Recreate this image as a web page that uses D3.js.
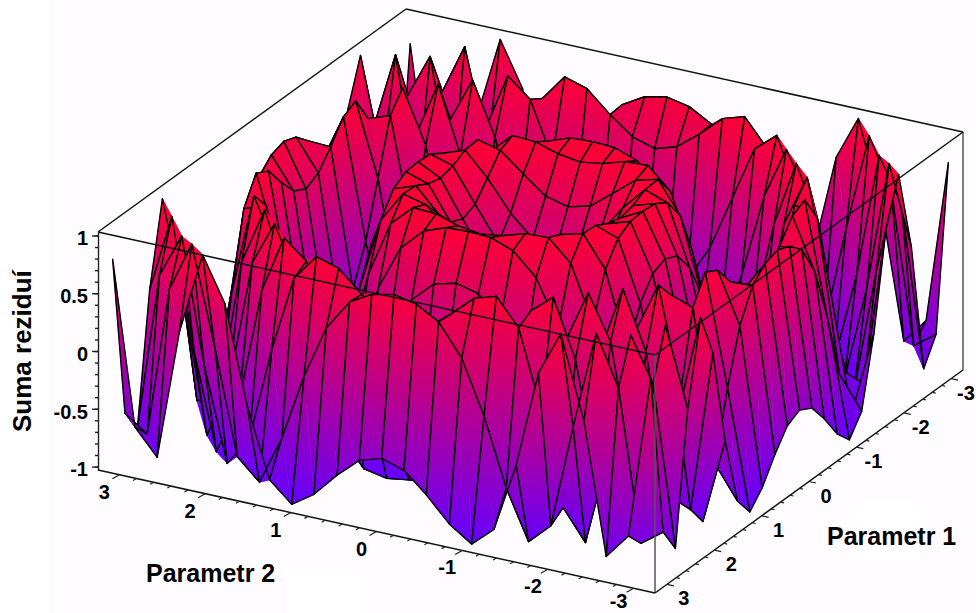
<!DOCTYPE html>
<html lang="cs">

<head>
  <meta charset="utf-8">
  <title>Suma reziduí</title>
  <script src="https://d3js.org/d3.v7.min.js"></script>
  <style>
    body { margin: 0; background: #fff; }
    svg { display: block; }
    text { font-family: "Liberation Sans", Arial, sans-serif; font-weight: bold; fill: #000; }
    .tick-label { font-size: 20px; text-anchor: middle; }
    .title { font-size: 25px; }
    .axis text { font-size: 20px; font-weight: bold; font-family: "Liberation Sans", Arial, sans-serif; }
    .axis path, .axis line { stroke: #222; }
  </style>
</head>

<body>
  <div id="chart"></div>

  <script type="text/javascript">
    "use strict"

    var param1Grid = [-3.14, -2.88, -2.62, -2.36, -2.09, -1.83, -1.57, -1.31, -1.05, -0.79, -0.52, -0.26, 0,
      0.26, 0.52, 0.79, 1.05, 1.31, 1.57, 1.83, 2.09, 2.36, 2.62, 2.88, 3.14];
    var param2Grid = [3.14, 2.88, 2.62, 2.36, 2.09, 1.83, 1.57, 1.31, 1.05, 0.79, 0.52, 0.26, 0,
      -0.26, -0.52, -0.79, -1.05, -1.31, -1.57, -1.83, -2.09, -2.36, -2.62, -2.88, -3.14];

    // heights of the surface, one row per param1Grid value, estimated to two decimals.
    // hand tabulated with the radial ripple seen in the picture as a guide, checked against spike positions
    var sumaReziduiRows = [
      [.78,-.63,-.85,.28,.99,.61,-.23,-.83,-1,-.87,-.66,-.49,-.43,-.49,-.66,-.87,-1,-.83,-.23,.61,.99,.28,-.85,-.63,.78],
      [-.63,-.77,.53,.96,.11,-.79,-.97,-.55,.03,.49,.76,.87,.91,.87,.76,.49,.03,-.55,-.97,-.79,.11,.96,.53,-.77,-.63],
      [-.85,.53,.91,-.16,-.97,-.71,.10,.76,.99,.93,.75,.60,.54,.60,.75,.93,.99,.76,.10,-.71,-.97,-.16,.91,.53,-.85],
      [.28,.96,-.16,-.99,-.49,.49,.99,.83,.36,-.11,-.44,-.61,-.67,-.61,-.44,-.11,.36,.83,.99,.49,-.49,-.99,-.16,.96,.28],
      [.99,.11,-.97,-.49,.61,.99,.54,-.18,-.72,-.96,-1,-.97,-.95,-.97,-1,-.96,-.72,-.18,.54,.99,.61,-.49,-.97,.11,.99],
      [.61,-.79,-.71,.49,.99,.42,-.44,-.94,-.97,-.74,-.47,-.28,-.22,-.28,-.47,-.74,-.97,-.94,-.44,.42,.99,.49,-.71,-.79,.61],
      [-.23,-.97,.10,.99,.54,-.44,-.98,-.86,-.41,.06,.39,.57,.62,.57,.39,.06,-.41,-.86,-.98,-.44,.54,.99,.10,-.97,-.23],
      [-.83,-.55,.76,.83,-.18,-.94,-.86,-.28,.33,.72,.91,.98,.99,.98,.91,.72,.33,-.28,-.86,-.94,-.18,.83,.76,-.55,-.83],
      [-1,.03,.99,.36,-.72,-.97,-.41,.33,.81,.99,.98,.92,.89,.92,.98,.99,.81,.33,-.41,-.97,-.72,.36,.99,.03,-1],
      [-.87,.49,.93,-.11,-.96,-.74,.06,.72,.99,.94,.78,.63,.58,.63,.78,.94,.99,.72,.06,-.74,-.96,-.11,.93,.49,-.87],
      [-.66,.76,.75,-.44,-1,-.47,.39,.91,.98,.78,.52,.34,.27,.34,.52,.78,.98,.91,.39,-.47,-1,-.44,.75,.76,-.66],
      [-.49,.87,.60,-.61,-.97,-.28,.57,.98,.92,.63,.34,.14,.07,.14,.34,.63,.92,.98,.57,-.28,-.97,-.61,.60,.87,-.49],
      [-.43,.91,.54,-.67,-.95,-.22,.62,.99,.89,.58,.27,.07,0,.07,.27,.58,.89,.99,.62,-.22,-.95,-.67,.54,.91,-.43],
      [-.49,.87,.60,-.61,-.97,-.28,.57,.98,.92,.63,.34,.14,.07,.14,.34,.63,.92,.98,.57,-.28,-.97,-.61,.60,.87,-.49],
      [-.66,.76,.75,-.44,-1,-.47,.39,.91,.98,.78,.52,.34,.27,.34,.52,.78,.98,.91,.39,-.47,-1,-.44,.75,.76,-.66],
      [-.87,.49,.93,-.11,-.96,-.74,.06,.72,.99,.94,.78,.63,.58,.63,.78,.94,.99,.72,.06,-.74,-.96,-.11,.93,.49,-.87],
      [-1,.03,.99,.36,-.72,-.97,-.41,.33,.81,.99,.98,.92,.89,.92,.98,.99,.81,.33,-.41,-.97,-.72,.36,.99,.03,-1],
      [-.83,-.55,.76,.83,-.18,-.94,-.86,-.28,.33,.72,.91,.98,.99,.98,.91,.72,.33,-.28,-.86,-.94,-.18,.83,.76,-.55,-.83],
      [-.23,-.97,.10,.99,.54,-.44,-.98,-.86,-.41,.06,.39,.57,.62,.57,.39,.06,-.41,-.86,-.98,-.44,.54,.99,.10,-.97,-.23],
      [.61,-.79,-.71,.49,.99,.42,-.44,-.94,-.97,-.74,-.47,-.28,-.22,-.28,-.47,-.74,-.97,-.94,-.44,.42,.99,.49,-.71,-.79,.61],
      [.99,.11,-.97,-.49,.61,.99,.54,-.18,-.72,-.96,-1,-.97,-.95,-.97,-1,-.96,-.72,-.18,.54,.99,.61,-.49,-.97,.11,.99],
      [.28,.96,-.16,-.99,-.49,.49,.99,.83,.36,-.11,-.44,-.61,-.67,-.61,-.44,-.11,.36,.83,.99,.49,-.49,-.99,-.16,.96,.28],
      [-.85,.53,.91,-.16,-.97,-.71,.10,.76,.99,.93,.75,.60,.54,.60,.75,.93,.99,.76,.10,-.71,-.97,-.16,.91,.53,-.85],
      [-.63,-.77,.53,.96,.11,-.79,-.97,-.55,.03,.49,.76,.87,.91,.87,.76,.49,.03,-.55,-.97,-.79,.11,.96,.53,-.77,-.63],
      [.78,-.63,-.85,.28,.99,.61,-.23,-.83,-1,-.87,-.66,-.49,-.43,-.49,-.66,-.87,-1,-.83,-.23,.61,.99,.28,-.85,-.63,.78]
    ];

    var zTicks = [1, 0.5, 0, -0.5, -1];
    var param1Ticks = [3, 2, 1, 0, -1, -2, -3];
    var param2Ticks = [3, 2, 1, 0, -1, -2, -3];

    var largura = 976, altura = 613;

    var svg = d3.select('#chart')
      .append('svg')
        .attr('width', largura)
        .attr('height', altura);

    // fundo: the scan is slightly off white except a strip and two patches
    svg.append('rect').attr('x', 50).attr('y', 0).attr('width', largura - 50).attr('height', altura).attr('fill', '#fffcff');
    svg.append('rect').attr('x', 286).attr('y', 572).attr('width', 80).attr('height', 41).attr('fill', '#fff');
    svg.append('rect').attr('x', 856).attr('y', 500).attr('width', 64).attr('height', 60).attr('fill', '#fff');

    // projecao ortografica: each data axis adds its own screen offset
    var limite = 3.25, zLimite = 1.03;
    var origemX = 530.5, origemY = 301;
    var p1X = d3.scaleLinear().domain([-limite, limite]).range([154, -154]);
    var p1Y = d3.scaleLinear().domain([-limite, limite]).range([-111.5, 111.5]);
    var p2X = d3.scaleLinear().domain([-limite, limite]).range([278.5, -278.5]);
    var p2Y = d3.scaleLinear().domain([-limite, limite]).range([61.5, -61.5]);
    var zY = d3.scaleLinear().domain([-zLimite, zLimite]).range([119, -119]);
    var cor = d3.scaleLinear().domain([-1, 1]).range(['#6400ff', '#ff0032']);

    function projeta(p1, p2, z) {
      return [origemX + p1X(p1) + p2X(p2), origemY + p1Y(p1) + p2Y(p2) + zY(z)];
    }

    var defs = svg.append('defs');
    var ramp = defs.append('linearGradient').attr('id', 'ramp');
    ramp.append('stop').attr('offset', 0).attr('stop-color', cor(-1));
    ramp.append('stop').attr('offset', 1).attr('stop-color', cor(1));

    var contaGrad = 0;

    // gradient along the height direction of one flat triangle
    function pintura(a, b, c) {
      var det = (b.s[0] - a.s[0]) * (c.s[1] - a.s[1]) - (c.s[0] - a.s[0]) * (b.s[1] - a.s[1]);
      var dz1 = b.z - a.z, dz2 = c.z - a.z;
      if (Math.abs(det) < 0.01) return cor((a.z + b.z + c.z) / 3);
      var gx = (dz1 * (c.s[1] - a.s[1]) - dz2 * (b.s[1] - a.s[1])) / det;
      var gy = (dz2 * (b.s[0] - a.s[0]) - dz1 * (c.s[0] - a.s[0])) / det;
      var g2 = gx * gx + gy * gy;
      if (g2 < 1e-9) return cor(a.z);
      var id = 'g' + (contaGrad++);
      var t0 = (-1 - a.z) / g2, t1 = (1 - a.z) / g2;
      defs.append('linearGradient')
        .attr('id', id)
        .attr('href', '#ramp')
        .attr('gradientUnits', 'userSpaceOnUse')
        .attr('x1', a.s[0] + gx * t0).attr('y1', a.s[1] + gy * t0)
        .attr('x2', a.s[0] + gx * t1).attr('y2', a.s[1] + gy * t1);
      return 'url(#' + id + ')';
    }

    function caminho(pts) {
      return 'M' + pts.map(function(p) { return p.s[0].toFixed(2) + ',' + p.s[1].toFixed(2); }).join('L') + 'Z';
    }

    function ponto(i, j) {
      var z = sumaReziduiRows[i][j];
      return { s: projeta(param1Grid[i], param2Grid[j], z), z: z };
    }

    // back edges of the box go under the surface
    function aresta(g, a, b, cls) {
      var p = projeta(a[0], a[1], a[2]), q = projeta(b[0], b[1], b[2]);
      g.append('line')
        .attr('x1', p[0]).attr('y1', p[1]).attr('x2', q[0]).attr('y2', q[1])
        .attr('stroke', cls || '#111').attr('stroke-width', 1.5);
    }

    var L = limite, Z = zLimite;
    var fundo = svg.append('g');
    aresta(fundo, [L, L, Z], [-L, L, Z]);
    aresta(fundo, [-L, L, Z], [-L, -L, Z]);
    aresta(fundo, [-L, -L, Z], [-L, -L, -Z], '#555');

    // superficie: painter order, from the back corner to the front corner
    var sup = svg.append('g');
    for (var i = 0; i < param1Grid.length - 1; i++) {
      for (var j = 0; j < param2Grid.length - 1; j++) {
        var a = ponto(i, j), b = ponto(i, j + 1), c = ponto(i + 1, j + 1), d = ponto(i + 1, j);
        var f1 = pintura(a, b, c), f2 = pintura(a, c, d);
        sup.append('path').attr('d', caminho([a, b, c])).attr('fill', f1).attr('stroke', f1).attr('stroke-width', 0.6);
        sup.append('path').attr('d', caminho([a, c, d])).attr('fill', f2).attr('stroke', f2).attr('stroke-width', 0.6);
        sup.append('path').attr('d', caminho([a, b, c, d])).attr('fill', 'none').attr('stroke', '#000').attr('stroke-width', 1.4).attr('stroke-linejoin', 'round');
      }
    }

    // front edges of the box are over the surface
    var frente = svg.append('g');
    aresta(frente, [L, L, Z], [L, -L, Z]);
    aresta(frente, [L, -L, Z], [-L, -L, Z]);
    aresta(frente, [L, -L, Z], [L, -L, -Z], '#555');
    aresta(frente, [L, L, -Z], [L, -L, -Z]);
    aresta(frente, [L, -L, -Z], [-L, -L, -Z]);

    // eixo z, real d3 axis on the left edge
    var zBase = projeta(L, L, 0);
    var zEixo = d3.scaleLinear().domain([-Z, Z]).range([zBase[1] + zY(-Z), zBase[1] + zY(Z)]);

    svg.append('g')
      .attr('class', 'axis')
      .attr('transform', 'translate(' + zBase[0] + ',0)')
      .call(d3.axisLeft(zEixo).tickValues(zEixo.ticks(20)).tickSize(3).tickSizeOuter(0).tickFormat(''))
      .selectAll('path, line').attr('stroke-width', 1.4);

    var zGrande = svg.append('g')
      .attr('class', 'axis')
      .attr('transform', 'translate(' + zBase[0] + ',0)')
      .call(d3.axisLeft(zEixo).tickValues(zTicks).tickSize(6).tickSizeOuter(0).tickPadding(4).tickFormat(String));
    zGrande.select('.domain').remove();
    zGrande.selectAll('line').attr('stroke-width', 1.4);
    zGrande.selectAll('text').attr('dy', '0.47em');

    // ground axes: ticks follow the other parameter's direction
    var tickGrupo = svg.append('g').attr('stroke', '#222').attr('stroke-width', 1.2);
    var p2Escala = d3.scaleLinear().domain([-3, 3]);
    p2Escala.ticks(30).forEach(function(v) {
      var p = projeta(L, v, -Z);
      var grande = param2Ticks.indexOf(v) >= 0;
      tickGrupo.append('line').attr('x1', p[0]).attr('y1', p[1])
        .attr('x2', p[0] - (grande ? 7 : 3.5)).attr('y2', p[1] + (grande ? 4 : 2));
    });
    p2Escala.ticks(30).forEach(function(v) {
      var p = projeta(v, -L, -Z);
      var grande = param1Ticks.indexOf(v) >= 0;
      tickGrupo.append('line').attr('x1', p[0]).attr('y1', p[1])
        .attr('x2', p[0] + (grande ? 7 : 3.5)).attr('y2', p[1] + (grande ? 1.5 : 0.8));
    });

    svg.append('g').selectAll('text')
      .data(param2Ticks)
      .enter()
      .append('text')
        .attr('class', 'tick-label')
        .attr('x', function(v) { return projeta(L, v, -Z)[0] - 15; })
        .attr('y', function(v) { return Math.min(projeta(L, v, -Z)[1] + 24, 608); })
        .text(String);

    svg.append('g').selectAll('text')
      .data(param1Ticks)
      .enter()
      .append('text')
        .attr('class', 'tick-label')
        .attr('x', function(v) { return Math.min(projeta(v, -L, -Z)[0] + 17, 966); })
        .attr('y', function(v) { return projeta(v, -L, -Z)[1] + 21; })
        .text(String);

    svg.append('text').attr('class', 'title').attr('x', 146).attr('y', 582).text('Parametr 2');
    svg.append('text').attr('class', 'title').attr('x', 827).attr('y', 545).text('Parametr 1');
    svg.append('text').attr('class', 'title')
      .attr('transform', 'translate(31,432) rotate(-90)')
      .style('font-size', '26px')
      .text('Suma reziduí');
  </script>
</body>

</html>
